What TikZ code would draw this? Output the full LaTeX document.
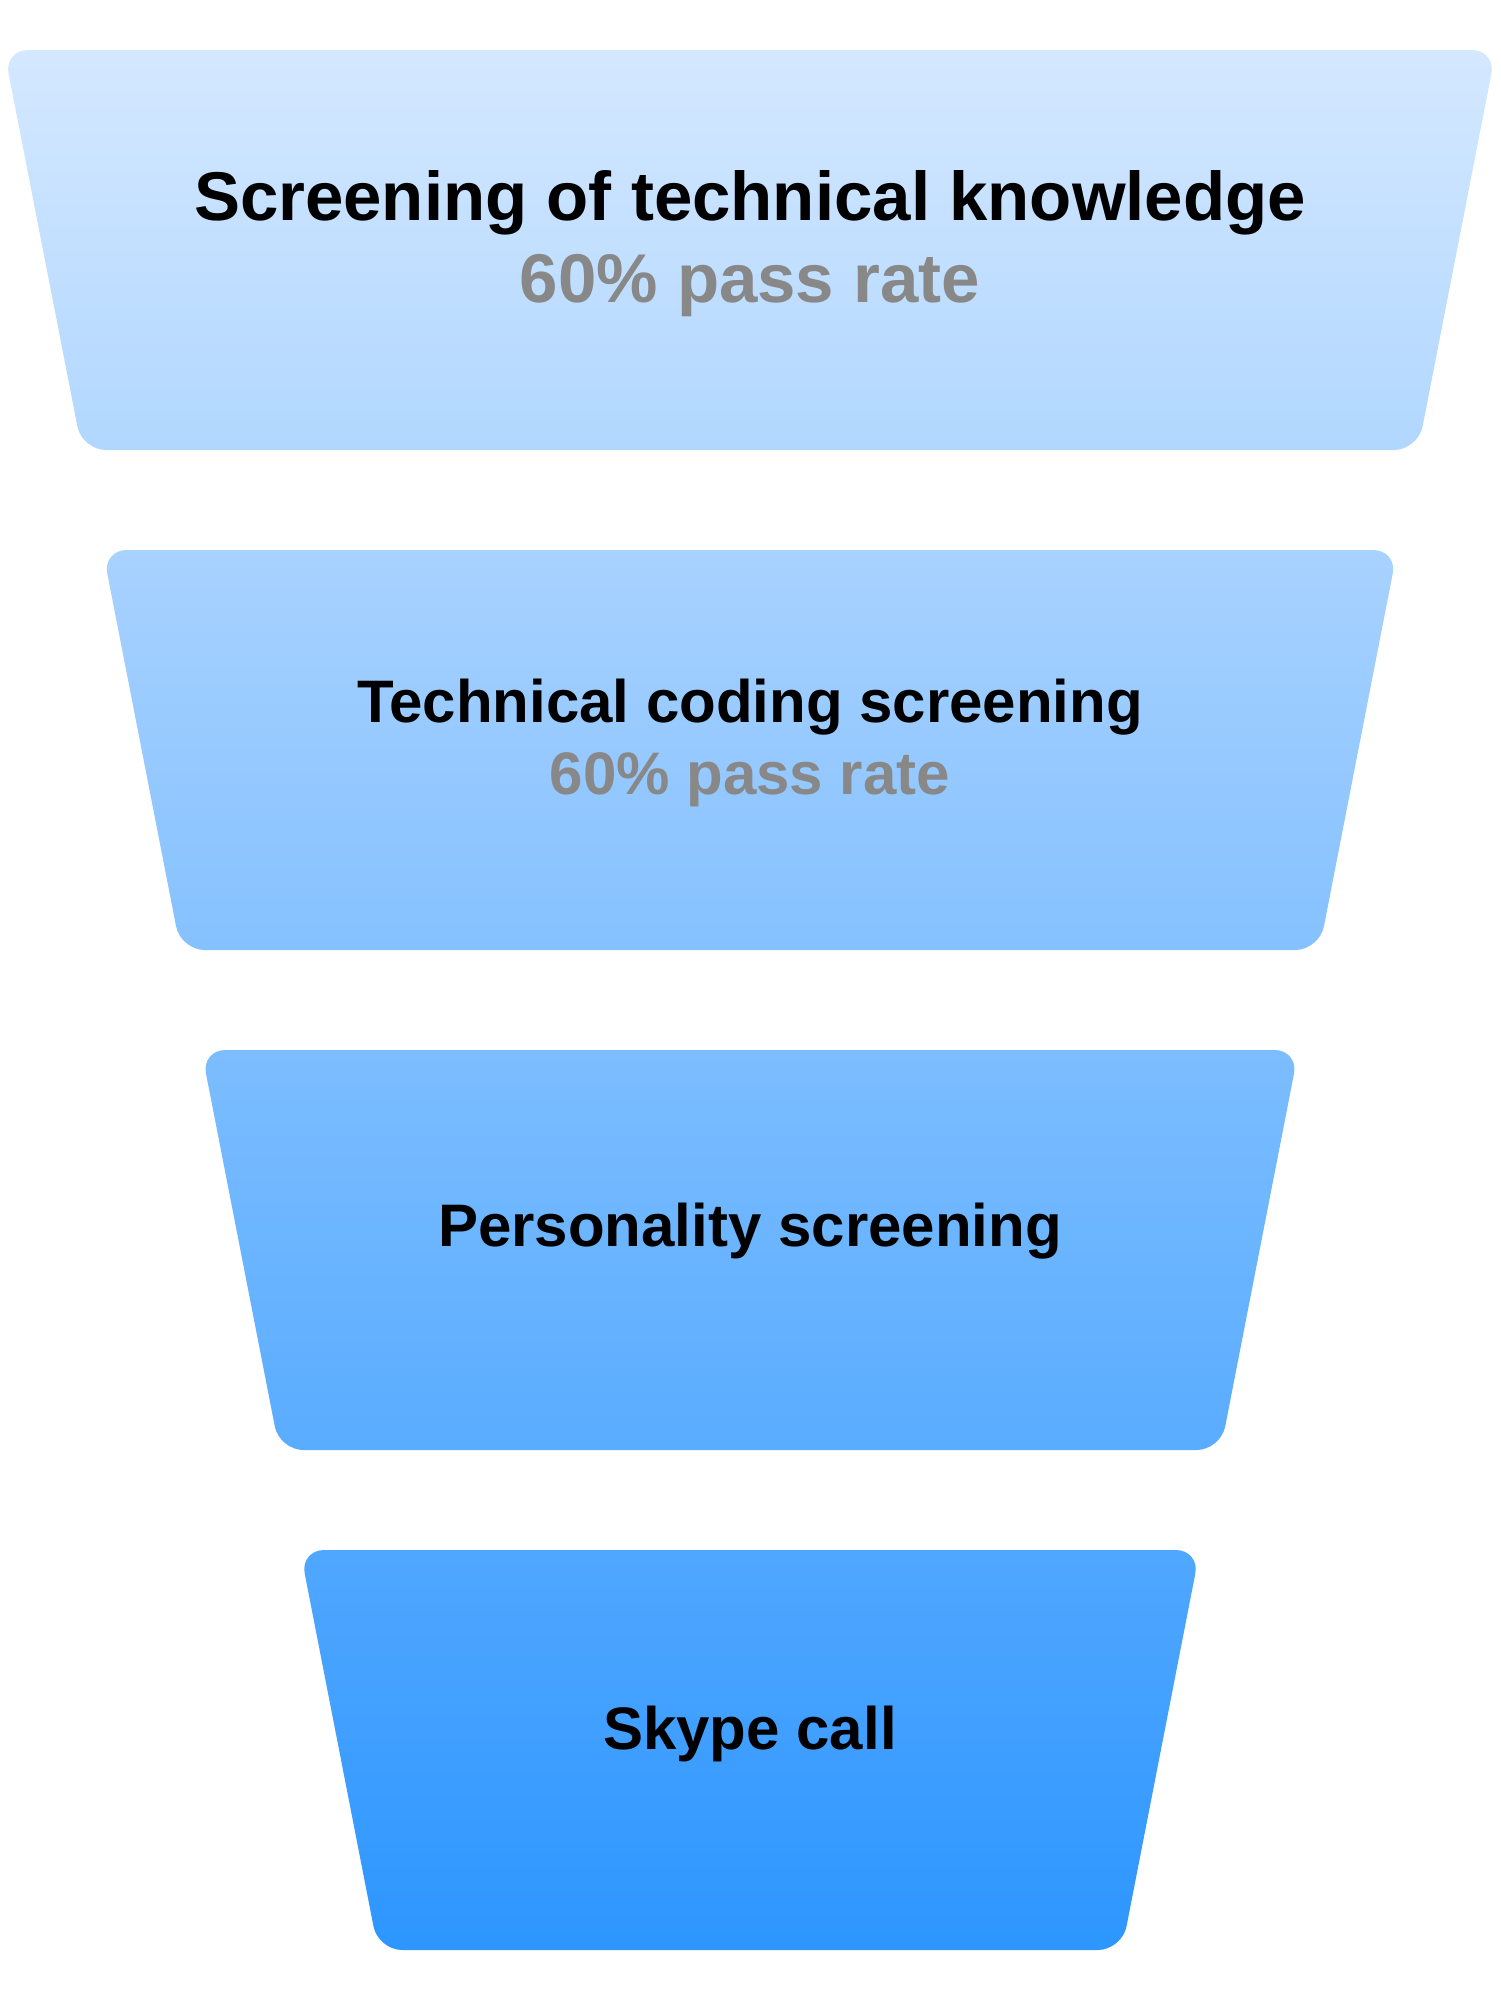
\documentclass[tikz,border=0pt]{standalone}
\usepackage{fontspec}
\setmainfont{Liberation Sans}
\definecolor{c0t}{RGB}{212,232,255}
\definecolor{c0b}{RGB}{177,215,255}
\definecolor{c1t}{RGB}{168,210,255}
\definecolor{c1b}{RGB}{133,193,255}
\definecolor{c2t}{RGB}{124,189,255}
\definecolor{c2b}{RGB}{89,172,255}
\definecolor{c3t}{RGB}{80,167,255}
\definecolor{c3b}{RGB}{45,150,255}
\definecolor{passgrey}{RGB}{136,136,136}
\tikzset{
  stagebox/.style={rounded corners=24pt},
  bigtitle/.style={anchor=base, inner sep=0pt, font=\bfseries\fontsize{69}{82}\selectfont, text=black},
  bigrate/.style={anchor=base, inner sep=0pt, font=\bfseries\fontsize{69}{82}\selectfont, text=passgrey},
  title/.style={anchor=base, inner sep=0pt, font=\bfseries\fontsize{60}{72}\selectfont, text=black},
  rate/.style={anchor=base, inner sep=0pt, font=\bfseries\fontsize{60}{72}\selectfont, text=passgrey},
}
\begin{document}
\begin{tikzpicture}[x=1pt,y=-1pt]
\useasboundingbox (0,0) rectangle (1500,2000);
% stage 1
\shade[stagebox, top color=c0t, bottom color=c0b]
  (4,50) -- (1496,50) -- (1418,450) -- (82,450) -- cycle;
% stage 2
\shade[stagebox, top color=c1t, bottom color=c1b]
  (102.7,550) -- (1397.3,550) -- (1319.3,950) -- (180.7,950) -- cycle;
% stage 3
\shade[stagebox, top color=c2t, bottom color=c2b]
  (201.4,1050) -- (1298.6,1050) -- (1220.6,1450) -- (279.4,1450) -- cycle;
% stage 4
\shade[stagebox, top color=c3t, bottom color=c3b]
  (300.1,1550) -- (1199.9,1550) -- (1121.9,1950) -- (378.1,1950) -- cycle;

\node[bigtitle] (t1) at (750,220) {Screening of technical knowledge};
\node[bigrate] (r1) at (750,302) {60\% pass rate};
\node[title] (t2) at (750,722) {Technical coding screening};
\node[rate] (r2) at (750,794) {60\% pass rate};
\node[title] (t3) at (750,1246) {Personality screening};
\node[title] (t4) at (750,1749) {Skype call};
\end{tikzpicture}
\end{document}
